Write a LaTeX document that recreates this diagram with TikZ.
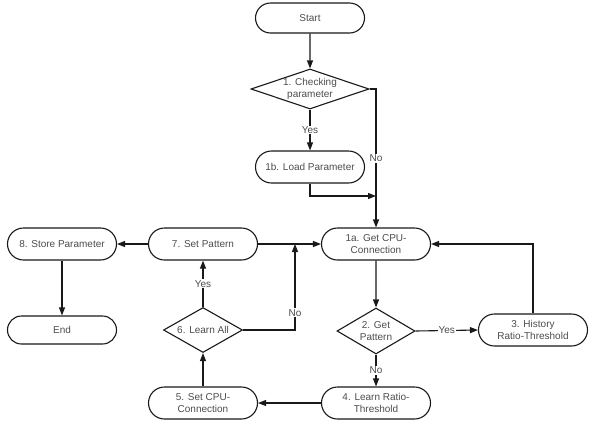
\documentclass[tikz,border=0pt]{standalone}
\usepackage{fontspec}
\setmainfont{Liberation Sans}
\usetikzlibrary{arrows.meta, shapes.geometric, shapes.misc}
\tikzstyle{box}=[draw=black!90, shape=rounded rectangle, line width=1.1pt, minimum width=111pt, minimum height=32pt, inner sep=1pt, align=center, font=\fontsize{10}{12}\selectfont, text=black!70]
\tikzstyle{decision}=[draw=black!90, shape=diamond, line width=1.1pt, inner sep=0pt, align=center, font=\fontsize{10}{12}\selectfont, text=black!70]
\tikzstyle{lbl}=[fill=white, inner sep=1pt, font=\fontsize{10}{12}\selectfont, text=black!70]
\tikzstyle{flow}=[draw=black!90, line width=1.1pt]
\tikzset{>={Triangle[length=8pt,width=6pt]}}

\begin{document}
\begin{tikzpicture}[x=1pt, y=-1pt]
\useasboundingbox (0,0) rectangle (593,426);
% boxes
\node[box, minimum height=30pt] (start) at (310,18) {Start};
\node[decision, aspect=2.95, minimum width=118pt, minimum height=40pt] (chk) at (310,89) {1. Checking\\parameter};
\node[box] (load) at (310,167) {1b. Load Parameter};
\node[box] (getcpu) at (376,244) {1a. Get CPU-\\Connection};
\node[decision, aspect=1.7, minimum width=78pt, minimum height=46pt] (getpat) at (376,331) {2. Get\\Pattern};
\node[box] (hist) at (533,330) {3. History\\Ratio-Threshold};
\node[box] (learnrt) at (376,403) {4. Learn Ratio-\\Threshold};
\node[box] (setcpu) at (203,403) {5. Set CPU-\\Connection};
\node[decision, aspect=1.75, minimum width=79pt, minimum height=45pt] (learnall) at (203,330) {6. Learn All};
\node[box] (setpat) at (203,244) {7. Set Pattern};
\node[box] (store) at (62,244) {8. Store Parameter};
\node[box, minimum height=28pt] (end) at (62,330) {End};
\coordinate (join) at (376,196);
\coordinate (merge) at (295,244);
%
% connectors
\draw[flow, ->] (start) -- (chk);
\draw[flow, ->] (chk) -- node[lbl] {Yes} (load);
\draw[flow, ->] (chk.east) -| node[lbl, pos=0.75] {No} (getcpu.north);
\draw[flow, ->] (load.south) |- (join);
\draw[flow, ->] (getcpu) -- (getpat);
\draw[flow, ->] (getpat.east) -- node[lbl] {Yes} (hist.west);
\draw[flow, ->] (hist.north) |- (getcpu.east);
\draw[flow, ->] (getpat.south) -- node[lbl] {No} (learnrt.north);
\draw[flow, ->] (learnrt.west) -- (setcpu.east);
\draw[flow, ->] (setcpu.north) -- (learnall.south);
\draw[flow, ->] (learnall.north) -- node[lbl] {Yes} (setpat.south);
\draw[flow, ->] (learnall.east) -| node[lbl, pos=0.6] {No} (merge);
\draw[flow, ->] (setpat.east) -- (getcpu.west);
\draw[flow, ->] (setpat.west) -- (store.east);
\draw[flow, ->] (store.south) -- (end.north);
\end{tikzpicture}
\end{document}
